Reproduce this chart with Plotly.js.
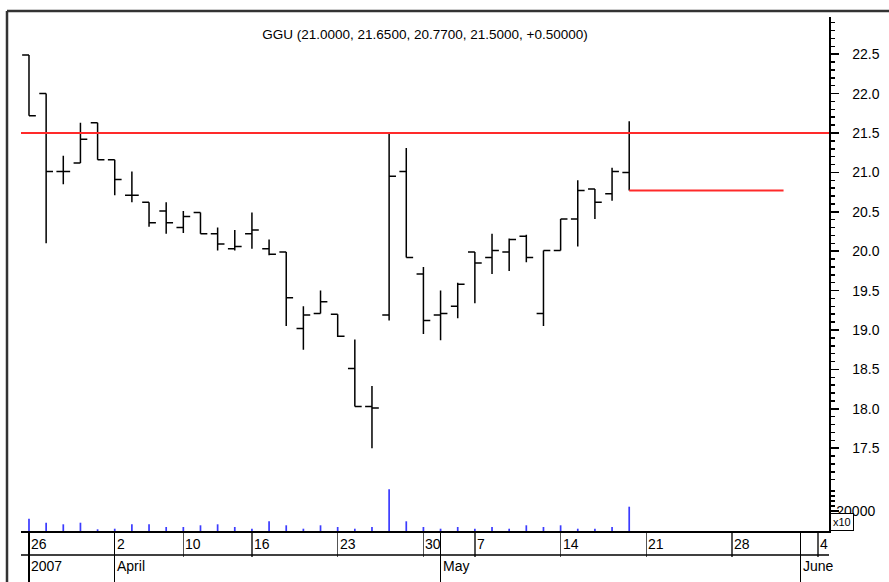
<!DOCTYPE html>
<html>
<head>
<meta charset="utf-8">
<script src="https://cdn.plot.ly/plotly-3.0.1.min.js"></script>
<style>html,body{margin:0;padding:0;background:#fff;}#chart{width:889px;height:582px;}</style>
</head>
<body>
<div id="chart"></div>
<script>
// ---- data (one entry per trading day, 26 Mar 2007 .. 18 May 2007) ----
const openP  = [22.49,22.00,21.01,21.12,21.63,21.16,20.71,20.62,20.51,20.30,20.49,20.22,20.03,20.22,20.03,19.99,19.02,19.21,19.20,18.51,18.03,19.19,21.01,19.71,19.19,19.30,19.99,19.92,19.99,20.19,19.21,20.01,20.41,20.79,20.73,21.00];
const highP  = [22.49,22.00,21.21,21.63,21.63,21.16,21.01,20.62,20.62,20.51,20.49,20.30,20.27,20.49,20.15,19.99,19.30,19.50,19.20,18.88,18.29,21.51,21.31,19.80,19.50,19.60,19.99,20.22,20.16,20.21,20.01,20.41,20.90,20.79,21.06,21.65];
const lowP   = [21.72,20.10,20.85,21.12,21.16,20.71,20.62,20.31,20.22,20.23,20.22,20.01,20.01,20.03,19.95,19.05,18.75,19.21,18.91,18.03,17.50,19.12,19.92,18.95,18.87,19.15,19.34,19.71,19.75,19.86,19.05,20.01,20.06,20.41,20.64,20.77];
const closeP = [21.72,21.01,21.01,21.42,21.16,20.91,20.71,20.36,20.36,20.44,20.22,20.09,20.06,20.27,19.96,19.41,19.19,19.36,18.92,18.03,18.01,20.95,19.92,19.12,19.21,19.58,19.85,20.01,20.15,19.92,20.01,20.41,20.77,20.62,21.01,21.50];
// volume in units of x10 shares
const volumeX10 = [12300,8300,6700,8300,1700,2300,6700,6700,4000,4000,5700,6700,4000,2300,9700,5700,2300,5700,4000,2300,4000,41700,9700,4000,2300,4000,2300,4000,2300,5700,4000,5700,2300,2300,4000,24300];

const resistanceLevel = 21.5;
const lastLow = 20.77;
const lastLowEndIdx = 44;

const dayTickIdx  = [0,5,9,13,18,23,26,31,36,41,46];
const dayTickText = ['26','2','10','16','23','30','7','14','21','28','4'];
const monthTickIdx  = [0,5,24,45];
const monthTickText = ['2007','April','May','June'];

const titleText = 'GGU (21.0000, 21.6500, 20.7700, 21.5000, +0.50000)';

// ---- layout geometry ----
const W = 889, H = 582;
const L = 21, R = 60, T = 17, B = 51;
const pw = W - L - R, ph = H - T - B;
const px = X => (X - L) / pw;
const py = Y => (H - B - Y) / ph;
const volPx = 45;
const FONT = 'Liberation Sans, Arial, sans-serif';

const idx = openP.map((_, i) => i);
const xRange = [-0.466, 46.65];

const traces = [
  {
    type: 'ohlc', x: idx, open: openP, high: highP, low: lowP, close: closeP,
    xaxis: 'x', yaxis: 'y', tickwidth: 0.4,
    increasing: {line: {color: '#000', width: 1.5}},
    decreasing: {line: {color: '#000', width: 1.5}},
    hoverinfo: 'skip', showlegend: false
  },
  {
    type: 'bar', x: idx, y: volumeX10, xaxis: 'x', yaxis: 'y2', width: 0.1,
    marker: {color: 'rgb(60,60,255)', line: {width: 0}}, hoverinfo: 'skip', showlegend: false
  },
  {
    type: 'scatter', mode: 'lines', x: [], y: [], xaxis: 'x2', yaxis: 'y2',
    hoverinfo: 'skip', showlegend: false
  }
];

const annotations = [];
dayTickIdx.forEach((v, i) => annotations.push({
  xref: 'x', x: v, yref: 'paper', y: 0, xanchor: 'left', yanchor: 'top',
  yshift: -3, showarrow: false, text: dayTickText[i],
  font: {family: FONT, size: 14, color: '#000'}
}));
monthTickIdx.forEach((v, i) => annotations.push({
  xref: 'x', x: v, yref: 'paper', y: 0, xanchor: 'left', yanchor: 'top',
  yshift: -25, showarrow: false, text: monthTickText[i],
  font: {family: FONT, size: 14, color: '#000'}
}));
annotations.push({
  xref: 'paper', x: 1, yref: 'paper', y: 0, xanchor: 'left', yanchor: 'bottom',
  xshift: 1, showarrow: false, text: 'x10', bgcolor: '#fff',
  bordercolor: '#000', borderwidth: 1, borderpad: 2,
  font: {family: FONT, size: 11, color: '#000'}
});

const shapes = [
  // outer frame
  {type: 'line', xref: 'paper', yref: 'paper', x0: px(7), x1: px(7), y0: py(11), y1: py(H + 5), line: {color: '#333', width: 2.5}},
  {type: 'line', xref: 'paper', yref: 'paper', x0: px(7), x1: px(W + 5), y0: py(11), y1: py(11), line: {color: '#333', width: 2.5}},
  // separator between day row and month row
  {type: 'line', xref: 'paper', yref: 'paper', x0: 0, x1: 1, y0: py(555), y1: py(555), line: {color: '#000', width: 1.5}},
  // red level lines
  {type: 'line', xref: 'paper', yref: 'y', x0: 0, x1: 1, y0: resistanceLevel, y1: resistanceLevel, line: {color: '#ff2a2a', width: 1.8}},
  {type: 'line', xref: 'x', yref: 'y', x0: idx[idx.length - 1], x1: lastLowEndIdx, y0: lastLow, y1: lastLow, line: {color: '#ff2a2a', width: 1.8}}
];

// price scale: 21.5 at pixel 133, 78.8 px per unit
const pxPerUnit = 78.8;
const priceTop = 21.5 + (133 - T) / pxPerUnit;
const priceBottom = 21.5 - (H - B - volPx - 133) / pxPerUnit;

const layout = {
  width: W, height: H,
  margin: {l: L, r: R, t: T, b: B, pad: 0},
  paper_bgcolor: '#fff', plot_bgcolor: '#fff',
  showlegend: false,
  font: {family: FONT, size: 14, color: '#000'},
  title: {
    text: titleText, font: {family: FONT, size: 13.5, color: '#000'},
    x: 0.5, xref: 'paper', xanchor: 'center',
    y: 1 - 34 / H, yref: 'container', yanchor: 'middle'
  },
  xaxis: {
    range: xRange, anchor: 'y2', showgrid: false, zeroline: false,
    showline: true, linecolor: '#000', linewidth: 1.5,
    tickmode: 'array', tickvals: dayTickIdx, ticks: 'outside', ticklen: 24,
    tickcolor: '#555', tickwidth: 1.5, showticklabels: false,
    rangeslider: {visible: false}, fixedrange: true
  },
  xaxis2: {
    range: xRange, overlaying: 'x', anchor: 'y2', showgrid: false, zeroline: false,
    showline: false, tickmode: 'array', tickvals: monthTickIdx, ticks: 'outside',
    ticklen: 51, tickcolor: '#000', tickwidth: 1.5, showticklabels: false, fixedrange: true
  },
  yaxis: {
    domain: [volPx / ph, 1], range: [priceBottom, priceTop], side: 'right', anchor: 'x',
    showgrid: false, zeroline: false, showline: true, linecolor: '#000', linewidth: 1.5,
    ticks: 'outside', ticklen: 8, tickwidth: 1.5, tickcolor: '#000',
    tick0: 0, dtick: 0.5, tickformat: '.1f', ticklabelstandoff: 11,
    tickfont: {family: FONT, size: 14, color: '#000'},
    minor: {dtick: 0.1, tick0: 0, ticks: 'outside', ticklen: 4, tickwidth: 1.5, tickcolor: '#000', showgrid: false},
    fixedrange: true
  },
  yaxis2: {
    domain: [0, volPx / ph], range: [0, volPx * 1000], side: 'right', anchor: 'x',
    showgrid: false, zeroline: false, showline: true, linecolor: '#000', linewidth: 1.5,
    ticks: 'outside', ticklen: 8, tickwidth: 1.5, tickcolor: '#000',
    tickmode: 'array', tickvals: [20000], ticktext: ['20000'], ticklabelstandoff: -5,
    tickfont: {family: FONT, size: 14, color: '#000'},
    minor: {tickmode: 'array', tickvals: [5000,10000,15000,25000,30000,35000,40000], ticks: 'outside', ticklen: 4, tickwidth: 1.5, tickcolor: '#000', showgrid: false},
    fixedrange: true
  },
  annotations: annotations,
  shapes: shapes
};

Plotly.newPlot('chart', traces, layout, {displayModeBar: false, staticPlot: true});
</script>
</body>
</html>
